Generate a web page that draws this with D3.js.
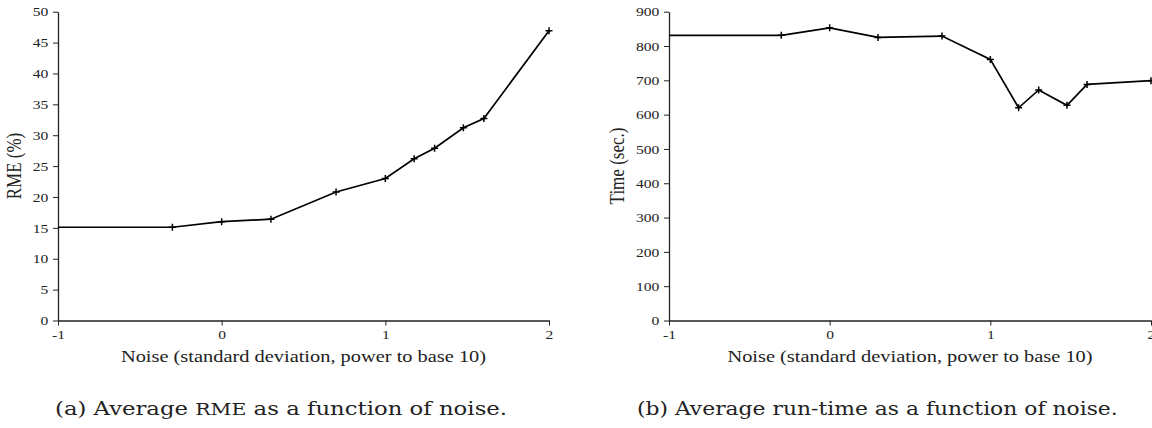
<!DOCTYPE html>
<html>
<head>
<meta charset="utf-8">
<script src="https://cdn.jsdelivr.net/npm/d3@7"></script>
<style>
  html, body { margin: 0; padding: 0; background: #fff; }
  svg { display: block; }
  .tick text { font-family: "Liberation Serif", "Times New Roman", serif; font-size: 13px; fill: #222; }
  .axis-title { font-family: "Liberation Serif", "Times New Roman", serif; font-size: 17px; fill: #222; }
  .caption { font-family: "DejaVu Serif", serif; font-size: 19px; fill: #222; }
</style>
</head>
<body>
<svg id="fig" width="1152" height="428"></svg>
<script>
// noise level as log10 of standard deviation
const noiseLog = [-1, -0.301, 0, 0.301, 0.699, 1, 1.176, 1.301, 1.477, 1.602, 2];

// (a) average RME (%)
const rmeValues = [15.1, 15.1, 16.0, 16.4, 20.8, 23.0, 26.2, 27.9, 31.2, 32.7, 46.9];

// (b) average run-time (sec.)
const timeValues = [831, 831, 853, 825, 829, 761, 620, 672, 627, 688, 699];

const xTicks = [-1, 0, 1, 2];
const rmeTicks = d3.range(0, 51, 5);
const timeTicks = d3.range(0, 901, 100);

// the original figure is stretched horizontally
const SX = 1.2;

const svg = d3.select("#fig");

function drawPanel(opts) {
  const g = svg.append("g");

  const x = d3.scaleLinear().domain([-1, 2]).range([opts.left, opts.right]);
  const y = d3.scaleLinear().domain(opts.yDomain).range([320.5, 11.7]);

  // axes
  g.append("g")
    .attr("transform", `translate(0,${y(0)})`)
    .call(d3.axisBottom(x).tickValues(xTicks).tickSize(5).tickSizeOuter(0).tickPadding(2))
    .call(a => a.select(".domain").attr("stroke", "#222").attr("stroke-width", 1.3))
    .call(a => a.selectAll(".tick line").attr("stroke", "#222"))
    .call(a => a.selectAll(".tick text")
      .attr("dy", "0.85em")
      .attr("transform", `scale(${SX},1)`)
      .text(d => d < 0 ? "-" + Math.abs(d) : d));

  g.append("g")
    .attr("transform", `translate(${opts.left},0)`)
    .call(d3.axisLeft(y).tickValues(opts.yTicks).tickSize(5).tickSizeOuter(0).tickPadding(3))
    .call(a => a.select(".domain").attr("stroke", "#222").attr("stroke-width", 1.3))
    .call(a => a.selectAll(".tick line").attr("stroke", "#222"))
    .call(a => a.selectAll(".tick text").attr("transform", `scale(${SX},1)`));

  // line
  const pts = noiseLog.map((v, i) => [v, opts.values[i]]);
  g.append("path")
    .datum(pts)
    .attr("fill", "none")
    .attr("stroke", "#000")
    .attr("stroke-width", 1.7)
    .attr("d", d3.line().x(d => x(d[0])).y(d => y(d[1])));

  // "+" markers (the first one sits on the axis and is not shown)
  const m = 3.5;
  g.selectAll(".mk")
    .data(pts.slice(1))
    .join("path")
    .attr("class", "mk")
    .attr("stroke", "#000")
    .attr("stroke-width", 1.5)
    .attr("d", d => {
      const cx = x(d[0]), cy = y(d[1]);
      return `M${cx - m},${cy}H${cx + m}M${cx},${cy - m}V${cy + m}`;
    });

  // titles
  g.append("text")
    .attr("class", "axis-title")
    .attr("transform", `translate(${(opts.left + opts.right) / 2},362) scale(${SX},1)`)
    .attr("text-anchor", "middle")
    .text("Noise (standard deviation, power to base 10)");

  g.append("text")
    .attr("class", "axis-title")
    .attr("transform", `translate(${opts.yTitleX},${opts.yTitleY}) scale(${SX},1) rotate(-90)`)
    .attr("text-anchor", "middle")
    .text(opts.yTitle);
}

drawPanel({ left: 58, right: 549, yDomain: [0, 50], yTicks: rmeTicks, values: rmeValues,
            yTitle: "RME (%)", yTitleX: 21, yTitleY: 166 });
drawPanel({ left: 669, right: 1151, yDomain: [0, 900], yTicks: timeTicks, values: timeValues,
            yTitle: "Time (sec.)", yTitleX: 624, yTitleY: 166 });

// captions
const capA = svg.append("text").attr("class", "caption")
  .attr("transform", `translate(55,415) scale(1.2,1)`);
capA.append("tspan").text("(a)  Average ");
capA.append("tspan").style("font-size", "17px").text("RME");
capA.append("tspan").text(" as a function of noise.");

svg.append("text").attr("class", "caption")
  .attr("transform", `translate(637,415) scale(1.15,1)`)
  .text("(b)  Average run-time as a function of noise.");
</script>
</body>
</html>
